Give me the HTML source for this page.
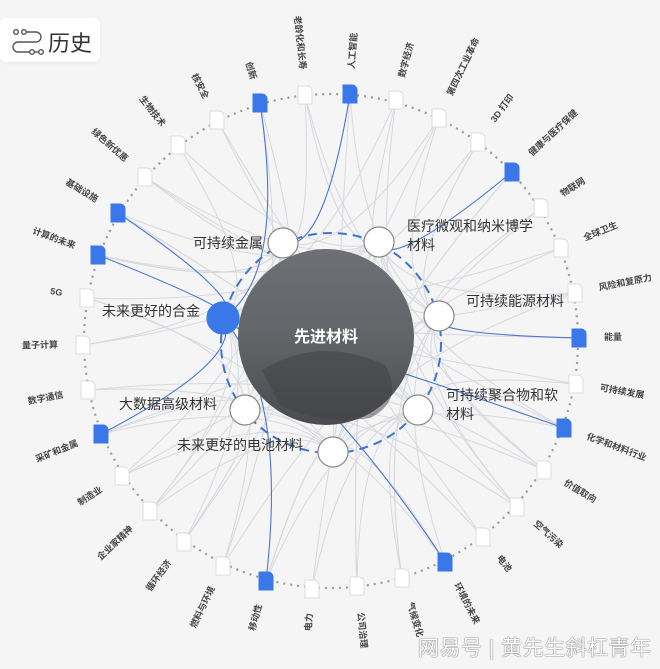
<!DOCTYPE html>
<html><head><meta charset="utf-8"><style>
html,body{margin:0;padding:0;background:#f5f5f6;}
body{width:660px;height:669px;overflow:hidden;position:relative;font-family:"Liberation Sans","Noto Sans CJK SC",sans-serif;}
.hist{position:absolute;left:0;top:18px;width:100px;height:44px;background:#fff;border-radius:6px;box-shadow:0 1px 3px rgba(0,0,0,.06);}
.hist span{position:absolute;left:48px;top:8px;font-size:22px;color:#333;}
.wm{position:absolute;left:418px;top:632px;font-size:21px;color:#fff;text-shadow:0 0 1px #555,0 0 1px #555;letter-spacing:0.5px;}
</style></head><body>
<div class="hist">
<svg width="40" height="44" style="position:absolute;left:10px;top:0" viewBox="0 0 40 44">
<g fill="none" stroke="#555" stroke-width="1.4">
<circle cx="6" cy="14" r="2.3"/><circle cx="14" cy="14" r="2.3"/><path d="M16.5 14H26a5 5 0 0 1 0 10H8a5 5 0 0 0 0 10h12"/>
<circle cx="22" cy="34" r="2.3"/><circle cx="31" cy="34" r="2.3"/><path d="M24.3 34h4.4"/>
</g></svg>
<span>历史</span></div>
<svg id="s" width="660" height="669" style="position:absolute;left:0;top:0"></svg>
<div class="wm">网易号 | 黄先生斜杠青年</div>
<script>
var NS="http://www.w3.org/2000/svg",s=document.getElementById('s');
function el(t,a,p){var e=document.createElementNS(NS,t);for(var k in a)e.setAttribute(k,a[k]);(p||s).appendChild(e);return e;}
var cx=331,cy=341,R=247;
var outer=[
["老龄化和长寿",305,95,0],["人工智能",350,94,1],["数字经济",396,100,0],["第四次工业革命",439,118,0],["3D 打印",478,142,0],["健康与医疗保健",512,172,1],["物联网",541,208,0],["全球卫生",561,248,0],["风险和复原力",575,293,0],["能量",579,338,1],["可持续发展",576,384,0],["化学和材料行业",564,428,1],["价值取向",544,470,0],["空气污染",517,507,0],["电池",483,537,0],["环境的未来",445,562,1],["气候变化",402,578,0],["公司治理",357,586,0],["电力",312,589,0],["移动性",266,581,1],["燃料与环境",223,566,0],["循环经济",184,542,0],["企业家精神",150,511,0],["制造业",122,476,0],["采矿和金属",101,434,1],["数字通信",88,390,0],["量子计算",83,345,0],["5G",87,298,0],["计算的未来",98,255,1],["基础设施",118,213,1],["绿色新优惠",145,177,0],["生物技术",178,145,0],["核安全",217,120,0],["创新",260,103,1]];
var inner=[[283,243],[379,242],[223,318],[439,316],[245,410],[418,410],[333,452]];
var gl=el('g',{fill:'none',stroke:'#d6d8dc','stroke-width':1});
var bl=el('g',{fill:'none',stroke:'#4a78d0','stroke-width':1.1});
function curve(a,b,g){var mx=(a[0]+b[0])/2,my=(a[1]+b[1])/2;var qx=mx+(cx-mx)*0.5,qy=my+(cy-my)*0.5;el('path',{d:'M'+a[0]+' '+a[1]+'Q'+qx+' '+qy+' '+b[0]+' '+b[1]},g);}
var seed=7;function rnd(){seed=(seed*9301+49297)%233280;return seed/233280;}
outer.forEach(function(o,i){var n=2+Math.floor(rnd()*3);for(var k=0;k<n;k++){var j=Math.floor(rnd()*7);curve([o[1],o[2]],inner[j],gl);}});
var blue=[[33,2],[29,2],[28,2],[24,2],[19,2],[1,0],[5,1],[9,3],[11,2],[15,2]];
blue.forEach(function(b){var o=outer[b[0]];curve([o[1],o[2]],inner[b[1]],bl);});
el('circle',{cx:cx,cy:cy,r:R,fill:'none',stroke:'#9a9a9a','stroke-width':2.2,'stroke-dasharray':'2 5'});
el('circle',{cx:331,cy:343,r:110,fill:'none',stroke:'#3f72d6','stroke-width':2,'stroke-dasharray':'9 6'});
var d=el('defs',{});var rg=el('linearGradient',{id:'g1',x1:'0',y1:'0',x2:'0',y2:'1'},d);
el('stop',{offset:'0','stop-color':'#6e7075'},rg);el('stop',{offset:'0.5','stop-color':'#626468'},rg);el('stop',{offset:'1','stop-color':'#4a4b4f'},rg);
el('circle',{cx:326,cy:337,r:88,fill:'url(#g1)'});
el('path',{d:'M262 370 Q320 335 385 365 Q405 400 370 418 Q320 425 280 405Z',fill:'#3f4044',opacity:.5});
var t=el('text',{x:326,y:342,'text-anchor':'middle','font-size':16,'font-weight':'bold',fill:'#fff'});t.textContent='先进材料';
outer.forEach(function(o){var x=o[1]-7,y=o[2]-9;
el('path',{d:'M'+x+' '+y+'h9a5 5 0 0 1 5 5v13h-14z',fill:o[3]?'#3a78ea':'#fff',stroke:o[3]?'#3a78ea':'#ddd','stroke-width':1});
var a=Math.atan2(o[2]-cy,o[1]-cx),deg=a*180/Math.PI,rr=R+26;var lx=cx+rr*Math.cos(a),ly=cy+rr*Math.sin(a);
var right=Math.cos(a)>=0.01;var rot=right?deg:deg+180;
var tt=el('text',{x:lx,y:ly,'font-size':9,'font-weight':'bold',fill:'#444','text-anchor':right?'start':'end','dominant-baseline':'middle',transform:'rotate('+rot+' '+lx+' '+ly+')'});tt.textContent=o[0];});
inner.forEach(function(p,i){el('circle',{cx:p[0],cy:p[1],r:i==2?16:15,fill:i==2?'#3a78ea':'#fff',stroke:i==2?'#3a78ea':'#888','stroke-width':1.2});});
function lab(txt,x,y,anc){var lines=txt.split('|');lines.forEach(function(l,k){var e=el('text',{x:x,y:y+k*19,'font-size':14,fill:'#333','text-anchor':anc});e.textContent=l;});}
lab("可持续金属",263,248,'end');lab("医疗微观和纳米博学|材料",407,231,'start');lab("未来更好的合金",200,316,'end');
lab("可持续能源材料",466,306,'start');lab("大数据高级材料",217,409,'end');lab("可持续聚合物和软|材料",446,400,'start');lab("未来更好的电池材料",303,450,'end');
</script>
</body></html>
